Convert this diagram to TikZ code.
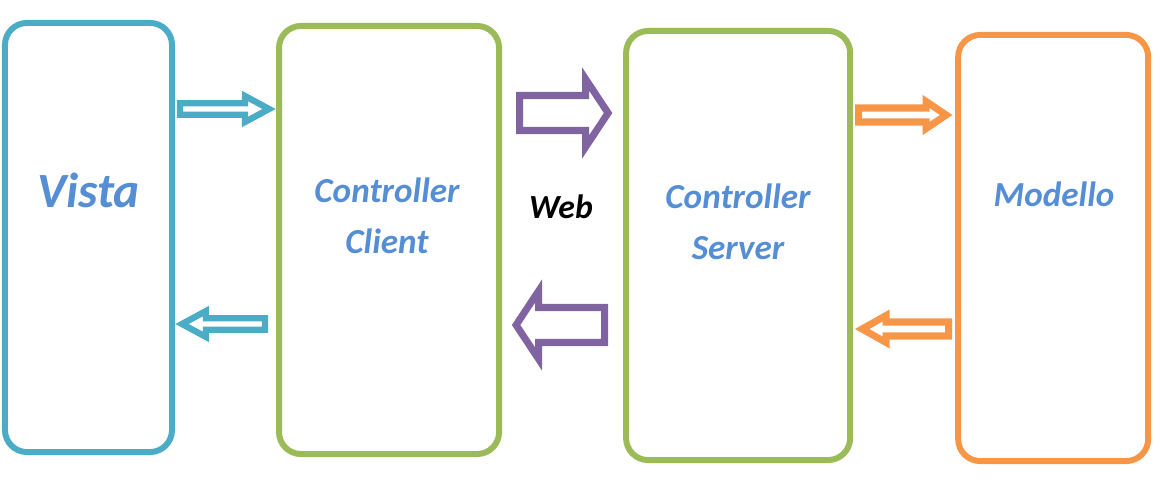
\documentclass[tikz,border=0pt]{standalone}
\usepackage{fontspec}
\setmainfont{Carlito}
\usetikzlibrary{positioning, calc}

\definecolor{vistablue}{HTML}{4BACC6}
\definecolor{ctrlgreen}{HTML}{9BBB59}
\definecolor{modorange}{HTML}{F79646}
\definecolor{webpurple}{HTML}{8064A2}
\definecolor{txtblue}{HTML}{558ED5}

\begin{document}
\begin{tikzpicture}[
    x=0.025cm, y=-0.025cm,
    box/.style={rectangle, draw=#1, rounded corners=0.55cm, line width=4.25pt},
    lbl/.style={text=txtblue, font=\bfseries\itshape\fontsize{25}{36}\selectfont, align=center},
    blk/.style args={#1/#2/#3}{fill=white, to path={
        ($(\tikztostart)+(0,#1)$) -- ($(\tikztotarget)!#3!(\tikztostart)+(0,#1)$)
        -- ($(\tikztotarget)!#3!(\tikztostart)+(0,#2)$) -- (\tikztotarget)
        -- ($(\tikztotarget)!#3!(\tikztostart)+(0,-#2)$)
        -- ($(\tikztotarget)!#3!(\tikztostart)+(0,-#1)$)
        -- ($(\tikztostart)+(0,-#1)$) -- cycle}}
]
    \useasboundingbox (0,0) rectangle (1160,485);

    % Boxes
    \node[box=vistablue, minimum width=4.175cm, minimum height=10.725cm] (vista) at (88.5,237.5) {};
    \node[box=ctrlgreen, minimum width=5.5cm, minimum height=10.7cm, right=2.525cm of vista, yshift=-0.0625cm] (client) {};
    \node[box=ctrlgreen, minimum width=5.6cm, minimum height=10.725cm, right=3.025cm of client, yshift=-0.1375cm] (server) {};
    \node[box=modorange, minimum width=4.75cm, minimum height=10.65cm, right=2.55cm of server, yshift=-0.0625cm] (modello) {};

    % Labels
    \node[lbl, font=\bfseries\itshape\fontsize{35}{36}\selectfont, anchor=base] (vistatxt) at (88.5,208) {Vista};
    \node[lbl] (clienttxt) at (387,216) {Controller\\Client};
    \node[lbl] (servertxt) at (738,222) {Controller\\Server};
    \node[lbl, anchor=base] (modtxt) at (1054,207) {Modello};
    \node[font=\bfseries\itshape\fontsize{24}{28}\selectfont, anchor=base] (web) at (561,219) {Web};

    % Block arrows
    \draw[blk=5.8/13/0.6cm, draw=vistablue, line width=4.5pt] ($(vista.east |- 0,109)+(5,0)$) to ($(client.west |- 0,109)+(-7,0)$);
    \draw[blk=5.8/13/0.6cm, draw=vistablue, line width=4.5pt] ($(client.west |- 0,324)+(-11,0)$) to ($(vista.east |- 0,324)+(7,0)$);
    \draw[blk=17.5/34/0.5625cm, draw=webpurple, line width=5pt] ($(client.east |- 0,113)+(17.5,0)$) to ($(server.west |- 0,113)+(-15,0)$);
    \draw[blk=17.5/34/0.5625cm, draw=webpurple, line width=5pt] ($(server.west |- 0,325)+(-18.5,0)$) to ($(client.east |- 0,325)+(14,0)$);
    \draw[blk=7/13.5/0.5cm, draw=modorange, line width=5pt] ($(server.east |- 0,115)+(5.5,0)$) to ($(modello.west |- 0,115)+(-9,0)$);
    \draw[blk=7/13.5/0.6cm, draw=modorange, line width=5pt] ($(modello.west |- 0,329)+(-6.5,0)$) to ($(server.east |- 0,329)+(9,0)$);
\end{tikzpicture}
\end{document}
